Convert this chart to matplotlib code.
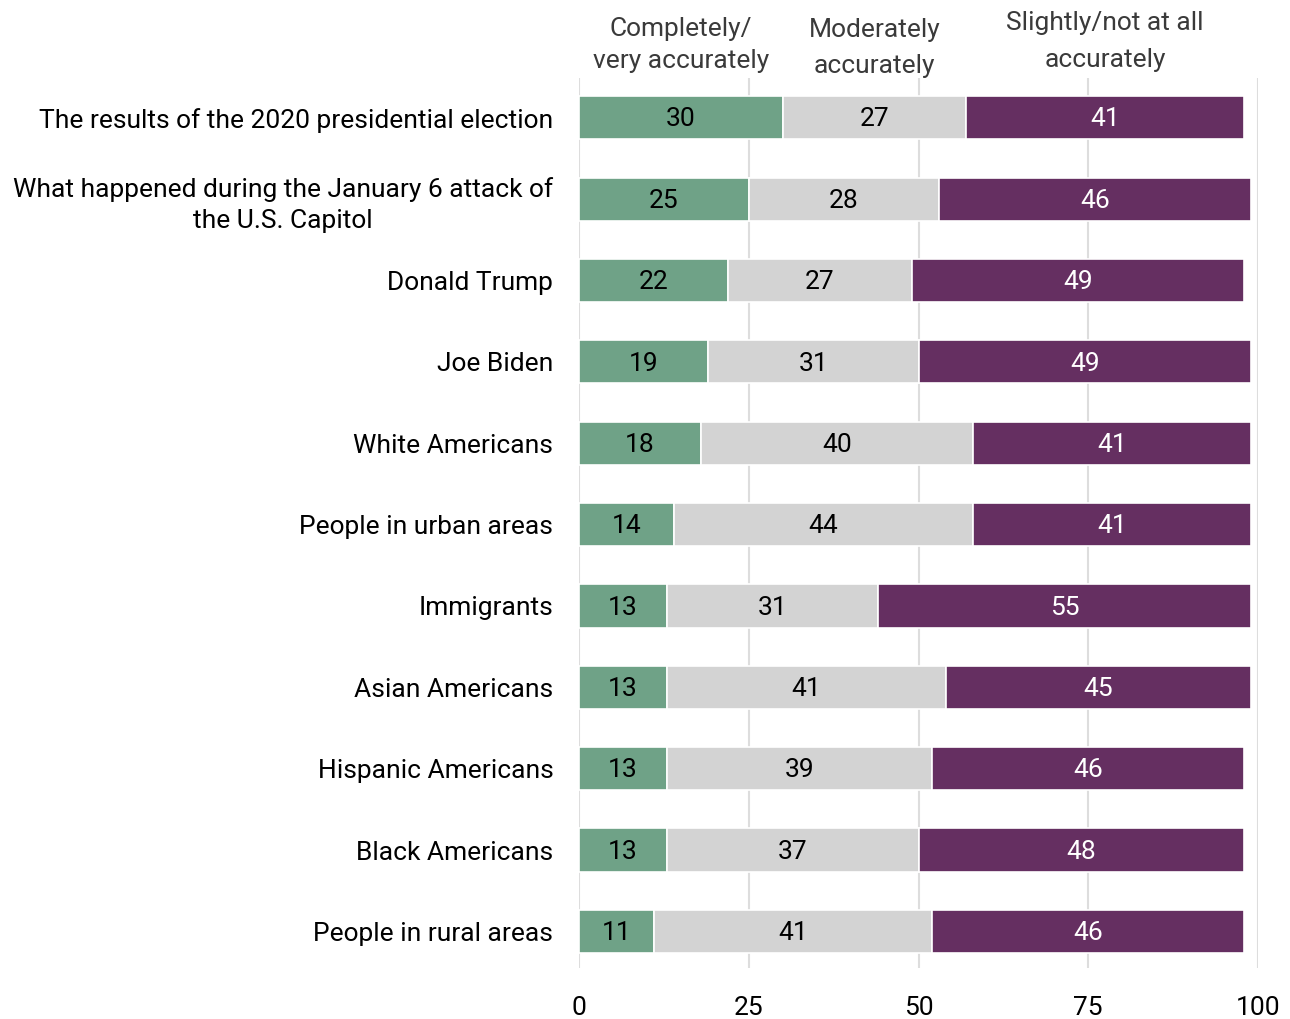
import numpy as np
import matplotlib.pyplot as plt

plt.rcParams["font.family"] = ["Roboto", "DejaVu Sans"]

categories = [
    "The results of the 2020 presidential election",
    "What happened during the January 6 attack of\nthe U.S. Capitol",
    "Donald Trump",
    "Joe Biden",
    "White Americans",
    "People in urban areas",
    "Immigrants",
    "Asian Americans",
    "Hispanic Americans",
    "Black Americans",
    "People in rural areas",
]
very = [30, 25, 22, 19, 18, 14, 13, 13, 13, 13, 11]
moderately = [27, 28, 27, 31, 40, 44, 31, 41, 39, 37, 41]
slightly = [41, 46, 49, 49, 41, 41, 55, 45, 46, 48, 46]
headers = ["Completely/\nvery accurately", "Moderately\naccurately", "Slightly/not at all\naccurately"]
xticks = [0, 25, 50, 75, 100]

colors = ["#6fa287", "#d3d3d3", "#652f61"]
text_colors = ["black", "black", "white"]

fig = plt.figure(figsize=(12.9, 10.19), dpi=100)
ax = fig.add_axes([579 / 1290, 1 - 968 / 1019, (1258 - 579) / 1290, 890 / 1019])

y = np.arange(len(categories))
left = np.zeros(len(categories))
for vals, c, tc in zip([very, moderately, slightly], colors, text_colors):
    vals = np.array(vals)
    ax.barh(y, vals, left=left, height=0.53, color=c, edgecolor="white", linewidth=1.2, zorder=2)
    for yi, l, v in zip(y, left, vals):
        ax.text(l + v / 2, yi + 0.02, str(v), ha="center", va="center", fontsize=19, color=tc, zorder=3)
    left = left + vals

# column headers above the first row's segments
mids = [very[0] / 2, very[0] + moderately[0] / 2, very[0] + moderately[0] + slightly[0] / 2]
header_y = [1.006, 1.0, 1.007]
header_ls = [1.42, 1.64, 1.69]
for m, h, hy, ls in zip(mids, headers, header_y, header_ls):
    ax.text(m, hy, h, ha="center", va="bottom", fontsize=19, color="#3a3a3a",
            transform=ax.get_xaxis_transform(), linespacing=ls)

ax.set_xlim(0, 100)
ax.set_ylim(10.45, -0.49)
ax.set_yticks(y)
ax.set_yticklabels(categories, fontsize=19, ha="right", multialignment="center", linespacing=1.35)
ax.set_xticks(xticks)
ax.set_xticklabels([str(t) for t in xticks], fontsize=19)
ax.tick_params(length=0)
ax.tick_params(axis="y", pad=18.5)
ax.tick_params(axis="x", pad=20.5)
ax.grid(axis="x", color="#dddddd", linewidth=1.5, zorder=0)
for s in ax.spines.values():
    s.set_visible(False)

fig.savefig("out.png", dpi=100)
